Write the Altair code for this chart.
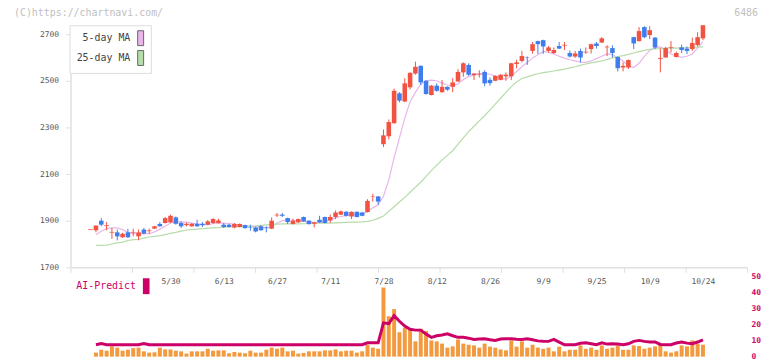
import altair as alt
import pandas as pd

# ---------------- data ----------------
# trading-day index 0..115 (5/9 .. 10/24)
open_ = [1862, 1859, 1900, 1879, 1850, 1850, 1829, 1850, 1850, 1833,
         1862, 1857, 1866, 1886, 1890, 1893, 1914, 1890, 1881, 1876,
         1887, 1887, 1883, 1890, 1890, 1883, 1883, 1871, 1873, 1881,
         1872, 1871, 1876, 1870, 1866, 1924, 1926, 1911, 1886, 1893,
         1916, 1900, 1887, 1904, 1916, 1901, 1916, 1926, 1938, 1918,
         1938, 1935, 1937, 2004, 2004, 2228, 2262, 2318, 2446, 2411,
         2472, 2531, 2564, 2500, 2439, 2479, 2451, 2474, 2474, 2497,
         2536, 2568, 2524, 2528, 2538, 2504, 2500, 2504, 2519, 2519,
         2572, 2585, 2602, 2628, 2670, 2674, 2628, 2619, 2649, 2652,
         2619, 2604, 2628, 2623, 2636, 2660, 2664, 2645, 2640, 2602,
         2557, 2557, 2687, 2670, 2730, 2696, 2685, 2594, 2600, 2643,
         2602, 2643, 2638, 2636, 2653, 2682]
high = [1863, 1880, 1911, 1894, 1869, 1862, 1848, 1865, 1866, 1862,
        1869, 1866, 1878, 1894, 1916, 1926, 1918, 1897, 1892, 1890,
        1904, 1894, 1903, 1911, 1909, 1890, 1886, 1890, 1888, 1883,
        1883, 1874, 1881, 1876, 1914, 1933, 1933, 1913, 1909, 1909,
        1918, 1902, 1895, 1921, 1918, 1926, 1944, 1944, 1942, 1940,
        1940, 1938, 1992, 2015, 2006, 2291, 2334, 2466, 2451, 2511,
        2536, 2582, 2566, 2502, 2482, 2489, 2503, 2476, 2511, 2550,
        2579, 2575, 2533, 2545, 2545, 2514, 2523, 2528, 2536, 2577,
        2590, 2628, 2604, 2666, 2672, 2676, 2649, 2643, 2666, 2666,
        2630, 2628, 2638, 2643, 2659, 2666, 2687, 2652, 2652, 2604,
        2579, 2591, 2689, 2730, 2734, 2734, 2687, 2638, 2645, 2670,
        2625, 2655, 2647, 2685, 2708, 2738]
low = [1861, 1850, 1876, 1859, 1822, 1816, 1826, 1826, 1833, 1816,
       1841, 1844, 1864, 1874, 1888, 1890, 1883, 1869, 1876, 1874,
       1874, 1873, 1881, 1887, 1888, 1869, 1871, 1867, 1871, 1866,
       1857, 1850, 1857, 1850, 1864, 1916, 1916, 1886, 1884, 1891,
       1895, 1883, 1871, 1891, 1888, 1890, 1907, 1924, 1918, 1907,
       1914, 1919, 1935, 1982, 1968, 2216, 2249, 2316, 2408, 2408,
       2463, 2526, 2482, 2441, 2437, 2453, 2449, 2457, 2451, 2495,
       2517, 2521, 2503, 2514, 2477, 2479, 2498, 2502, 2500, 2503,
       2553, 2579, 2568, 2616, 2615, 2615, 2621, 2615, 2636, 2632,
       2600, 2598, 2579, 2615, 2617, 2638, 2662, 2606, 2600, 2540,
       2540, 2550, 2636, 2668, 2682, 2678, 2636, 2536, 2598, 2621,
       2600, 2619, 2615, 2628, 2647, 2674]
close = [1862, 1879, 1883, 1879, 1850, 1833, 1844, 1829, 1850, 1850,
         1845, 1857, 1876, 1876, 1911, 1921, 1887, 1876, 1887, 1887,
         1876, 1881, 1897, 1907, 1901, 1873, 1873, 1886, 1886, 1868,
         1870, 1854, 1859, 1868, 1900, 1924, 1921, 1894, 1900, 1907,
         1897, 1886, 1893, 1893, 1890, 1916, 1935, 1940, 1921, 1938,
         1916, 1921, 1985, 2006, 1982, 2266, 2323, 2457, 2415, 2489,
         2534, 2560, 2493, 2443, 2479, 2457, 2474, 2462, 2493, 2538,
         2575, 2526, 2531, 2528, 2489, 2490, 2521, 2526, 2526, 2575,
         2579, 2606, 2600, 2657, 2657, 2647, 2643, 2632, 2638, 2652,
         2604, 2617, 2600, 2623, 2657, 2649, 2682, 2645, 2619, 2554,
         2564, 2589, 2660, 2713, 2687, 2717, 2643, 2598, 2640, 2643,
         2619, 2632, 2628, 2662, 2687, 2738]

# moving averages, volume and AI-Predict from day 1 onwards
ma5 = [1840, 1855, 1866, 1869, 1869, 1862, 1850, 1845, 1845, 1845,
       1844, 1852, 1864, 1876, 1890, 1894, 1895, 1894, 1890, 1886,
       1883, 1883, 1887, 1890, 1890, 1888, 1886, 1882, 1877, 1876,
       1875, 1873, 1869, 1874, 1890, 1900, 1904, 1902, 1898, 1897,
       1895, 1893, 1893, 1895, 1905, 1912, 1918, 1922, 1925, 1926,
       1930, 1940, 1955, 1968, 2005, 2075, 2170, 2255, 2340, 2410,
       2450, 2485, 2500, 2503, 2500, 2490, 2482, 2479, 2486, 2505,
       2518, 2525, 2531, 2531, 2528, 2520, 2510, 2507, 2520, 2540,
       2560, 2578, 2598, 2612, 2626, 2622, 2615, 2605, 2597, 2590,
       2585, 2580, 2579, 2585, 2595, 2605, 2615, 2612, 2598, 2585,
       2564, 2557, 2575, 2605, 2630, 2643, 2645, 2632, 2615, 2605,
       2600, 2605, 2615, 2640, 2668]
ma25 = [1794, 1794, 1795, 1800, 1805, 1808, 1815, 1819, 1820, 1825,
        1830, 1833, 1836, 1840, 1846, 1850, 1855, 1860, 1862, 1864,
        1866, 1868, 1869, 1870, 1872, 1873, 1874, 1875, 1876, 1877,
        1878, 1880, 1882, 1884, 1885, 1886, 1886, 1886, 1886, 1887,
        1887, 1888, 1889, 1890, 1890, 1891, 1892, 1893, 1894, 1894,
        1895, 1897, 1902, 1910, 1920, 1940, 1960, 1980, 2000, 2022,
        2044, 2065, 2090, 2115, 2138, 2160, 2180, 2200, 2228, 2255,
        2282, 2305, 2328, 2350, 2375, 2400, 2425, 2450, 2475, 2495,
        2510, 2517, 2524, 2530, 2535, 2538, 2542, 2546, 2550, 2555,
        2560, 2566, 2572, 2577, 2581, 2585, 2592, 2598, 2604, 2608,
        2613, 2619, 2625, 2630, 2635, 2637, 2638, 2640, 2640, 2640,
        2641, 2642, 2643, 2644, 2645]
volume = [2.5, 4.3, 3.7, 6.4, 5.6, 3.7, 4.3, 5.3, 5.6, 3.3,
          2.5, 2.7, 5.6, 4.5, 4.5, 3.7, 3.3, 1.9, 3.3, 3.3,
          3.3, 4.9, 3.7, 3.9, 3.9, 2.1, 2.9, 2.5, 2.1, 3.7,
          2.5, 2.5, 4.3, 5.6, 4.9, 5.6, 3.3, 3.7, 1.9, 2.3,
          3.3, 3.3, 3.3, 3.9, 3.9, 4.5, 3.3, 3.7, 3.7, 2.5,
          3.3, 7.4, 5.6, 4.9, 43.0, 25.1, 29.6, 15.2, 18.1, 16.5,
          9.5, 17.3, 16.0, 10.1, 9.5, 8.1, 5.6, 6.4, 10.7, 8.1,
          7.4, 7.0, 5.6, 8.1, 6.2, 5.6, 4.5, 3.9, 10.1, 6.2,
          9.5, 5.6, 7.4, 5.6, 4.9, 5.6, 3.3, 6.2, 3.3, 4.3,
          4.3, 7.0, 4.9, 5.6, 4.3, 7.0, 4.9, 5.6, 7.0, 4.3,
          4.3, 7.0, 6.6, 4.9, 5.6, 6.4, 8.1, 3.3, 2.5, 3.3,
          7.0, 6.4, 10.1, 8.1, 7.4]
ai_predict = [7.4, 8.2, 7.4, 7.4, 7.4, 7.4, 7.4, 7.4, 7.4, 8.2,
              7.4, 7.4, 7.4, 7.4, 7.4, 7.4, 7.4, 7.4, 7.4, 7.4,
              7.4, 7.4, 7.4, 7.4, 7.4, 7.4, 7.4, 7.4, 7.4, 7.4,
              7.4, 7.4, 7.4, 7.4, 7.4, 7.4, 7.4, 7.4, 7.4, 7.4,
              7.4, 7.4, 7.4, 7.4, 7.4, 7.4, 7.4, 7.4, 7.4, 7.4,
              7.4, 8.6, 8.6, 8.6, 21.0, 20.5, 25.5, 22.0, 19.0, 17.0,
              16.5, 16.5, 14.0, 12.0, 13.0, 13.5, 14.2, 13.0, 12.0, 12.0,
              11.5, 10.7, 11.0, 11.1, 10.5, 10.1, 11.0, 11.1, 11.1, 10.8,
              10.7, 11.1, 10.5, 9.8, 9.6, 9.5, 10.7, 9.0, 7.4, 7.4,
              7.4, 8.3, 8.6, 8.0, 7.4, 8.6, 7.8, 8.0, 7.8, 7.4,
              8.0, 9.5, 10.1, 9.5, 9.1, 9.1, 7.6, 7.4, 7.4, 8.5,
              9.1, 8.4, 8.0, 9.1, 10.5]

date_labels = ["5/30", "6/13", "6/27", "7/11", "7/28", "8/12",
               "8/26", "9/9", "9/25", "10/9", "10/24"]
label_days = [15, 25, 35, 45, 55, 65, 75, 85, 95, 105, 115]
price_ticks = [1700, 1900, 2100, 2300, 2500, 2700]
sub_ticks = [0, 10, 20, 30, 40, 50]
series_names = ["5-day MA", "25-day MA"]

# ---------------- tables ----------------
n = len(close)
candles = pd.DataFrame({"day": list(range(n)), "open": open_, "high": high,
                        "low": low, "close": close})
m = len(ma5)
ma = pd.DataFrame({"day": list(range(1, m + 1)) * 2,
                   "value": ma5 + ma25,
                   "series": [series_names[0]] * m + [series_names[1]] * m})
sub = pd.DataFrame({"day": list(range(1, m + 1)), "volume": volume, "ai": ai_predict})

# ---------------- style ----------------
RED = "#f25241"
BLUE = "#3f7ced"
ORANGE = "#f39a3f"
MAGENTA = "#cc0066"
PINK = "#e9b5ea"
GREEN = "#b6dca9"
GRID = "#e0e0e0"
MONO = "DejaVu Sans Mono"

X_DOMAIN = [-3.78, 123.3]
xscale = alt.Scale(domain=X_DOMAIN, nice=False, zero=False, padding=0)
grid_ticks = [X_DOMAIN[0] + k * (X_DOMAIN[1] - X_DOMAIN[0]) / 11 for k in range(12)]
yprice = alt.Scale(domain=[1700, 2738], range=[244, 0], nice=False, zero=False, padding=0)
ysub = alt.Scale(domain=[0, 50], range=[334, 253], nice=False, zero=True, padding=0)

updown = alt.condition("datum.close >= datum.open", alt.value(RED), alt.value(BLUE))

ma_lines = alt.Chart(ma).mark_line(strokeWidth=1.2).encode(
    x=alt.X("day:Q", scale=xscale,
            axis=alt.Axis(orient="bottom", offset=-90, values=grid_ticks, labels=False,
                          ticks=True, tickSize=5, tickColor=GRID, domainColor=GRID,
                          domainWidth=1.5, grid=False, title=None)),
    y=alt.Y("value:Q", scale=yprice,
            axis=alt.Axis(orient="left", values=price_ticks, format="d", tickSize=5,
                          tickColor=GRID, domainColor=GRID, domainWidth=1.5, grid=False,
                          title=None, labelFont=MONO, labelFontSize=8, labelColor="#555",
                          labelPadding=7)),
    stroke=alt.Stroke("series:N", scale=alt.Scale(domain=series_names, range=[PINK, GREEN]),
                      legend=None),
)
wick = alt.Chart(candles).mark_rule(strokeWidth=1).encode(
    x=alt.X("day:Q", scale=xscale, axis=None),
    y=alt.Y("low:Q", scale=yprice, axis=None),
    y2="high:Q",
    color=updown,
)
body = alt.Chart(candles).mark_bar(size=4.6).encode(
    x=alt.X("day:Q", scale=xscale, axis=None),
    y=alt.Y("open:Q", scale=yprice, axis=None),
    y2="close:Q",
    color=updown,
)
doji = alt.Chart(candles).transform_filter("datum.open == datum.close").mark_tick(
    orient="horizontal", size=5, thickness=1).encode(
    x=alt.X("day:Q", scale=xscale, axis=None),
    y=alt.Y("close:Q", scale=yprice, axis=None),
    color=updown,
)
ma_legend = alt.Chart(pd.DataFrame({"ma_name": series_names})).transform_filter("false").mark_point(
    filled=True, opacity=1).encode(
    color=alt.Color("ma_name:N", scale=alt.Scale(domain=series_names, range=[PINK, GREEN]),
                    legend=alt.Legend(title=None, orient="none", legendX=-1, legendY=0,
                                      direction="vertical",
                                      symbolType="M-0.4,-1L0.4,-1L0.4,1L-0.4,1Z",
                                      symbolSize=225, symbolOpacity=1,
                                      symbolStrokeColor="#666", symbolStrokeWidth=1,
                                      symbolOffset=58.7, labelOffset={"expr": "-18.4"},
                                      labelAlign="right",
                                      labelFont=MONO, labelFontSize=10, labelColor="#444",
                                      padding=5, strokeColor="#ddd", fillColor="white",
                                      rowPadding=0)),
)
watermark = alt.Chart(pd.DataFrame({"text": ["(C)https://chartnavi.com/"]})).mark_text(
    align="left", baseline="middle", font=MONO, fontSize=10, color="#c0c0c0").encode(
    x=alt.value(-57), y=alt.value(-12), text="text:N")
code_note = alt.Chart(pd.DataFrame({"text": ["6486"]})).mark_text(
    align="right", baseline="middle", font=MONO, fontSize=10, color="#c0c0c0").encode(
    x=alt.value(693), y=alt.value(-12), text="text:N")

label_expr = "[" + ",".join("'%s'" % s for s in date_labels) + "][round((datum.value-15)/10)]"
vol = alt.Chart(sub).mark_bar(size=4, color=ORANGE).encode(
    x=alt.X("day:Q", scale=xscale,
            axis=alt.Axis(orient="bottom", offset=-90, values=label_days, labelExpr=label_expr,
                          domain=False, ticks=False, grid=False, title=None, labelPadding=10,
                          labelFont=MONO, labelFontSize=8, labelColor="#555",
                          labelFlush=False, labelOverlap=False)),
    y=alt.Y("volume:Q", scale=ysub,
            axis=alt.Axis(orient="right", values=sub_ticks, domain=False, ticks=False,
                          grid=False, title=None, labelColor=MAGENTA, labelPadding=4,
                          labelFont=MONO, labelFontSize=8, labelFontWeight="bold")),
)
ai_line = alt.Chart(sub).mark_line(color=MAGENTA, strokeWidth=3).encode(
    x=alt.X("day:Q", scale=xscale, axis=None),
    y=alt.Y("ai:Q", scale=ysub, axis=None),
)
ai_legend = alt.Chart(pd.DataFrame({"ai_name": ["AI-Predict"]})).transform_filter("false").mark_point(
    filled=True, opacity=1).encode(
    color=alt.Color("ai_name:N", scale=alt.Scale(domain=["AI-Predict"], range=[MAGENTA]),
                    legend=alt.Legend(title=None, orient="none", legendX=4, legendY=255,
                                      symbolType="M-0.42,-1L0.42,-1L0.42,1L-0.42,1Z",
                                      symbolSize=256, symbolStrokeWidth=0, symbolOpacity=1,
                                      symbolOffset=64.3, labelOffset={"expr": "-18.3"},
                                      labelAlign="right",
                                      labelFont=MONO, labelFontSize=10, labelColor=MAGENTA,
                                      padding=0)),
)

chart = alt.layer(
    ma_lines, wick, body, doji, vol, ai_line, ma_legend, ai_legend, watermark, code_note
).resolve_scale(y="independent", color="independent").resolve_axis(
    x="independent", y="independent").properties(
    width=682, height=334,
    autosize=alt.AutoSizeParams(type="none"),
    padding={"left": 63, "top": 16, "right": 17, "bottom": 4},
).configure_view(stroke=None)

chart.save("out.html", embed_options={"renderer": "svg", "actions": False})
